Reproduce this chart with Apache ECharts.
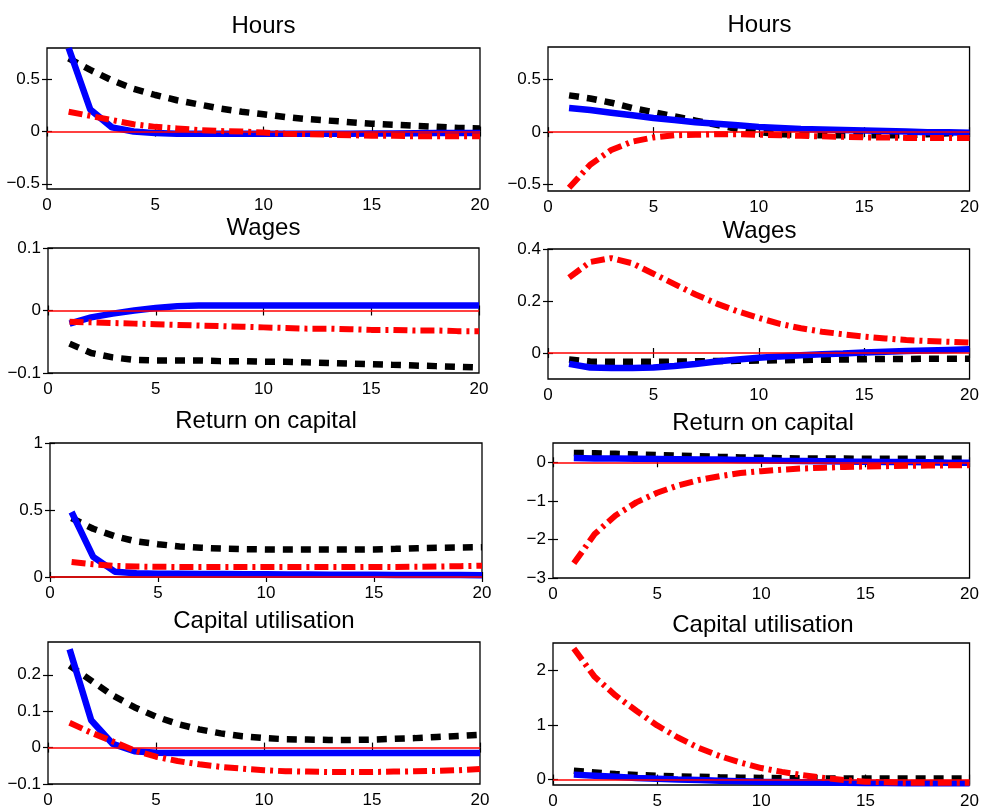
<!DOCTYPE html>
<html>
<head>
<meta charset="utf-8">
<script src="https://cdn.jsdelivr.net/npm/echarts@6/dist/echarts.min.js"></script>
<style>html,body{margin:0;padding:0;background:#fff}#c{width:982px;height:810px}</style>
</head>
<body>
<div id="c"></div>
<script>
// ---------- data ----------
const periods = [1,2,3,4,5,6,7,8,9,10,11,12,13,14,15,16,17,18,19,20];
const xTicks = [0,5,10,15,20];

const titles = ['Hours','Hours','Wages','Wages','Return on capital','Return on capital','Capital utilisation','Capital utilisation'];

const hoursLTicks = [-0.5,0,0.5];
const hoursRTicks = [-0.5,0,0.5];
const wagesLTicks = [-0.1,0,0.1];
const wagesRTicks = [0,0.2,0.4];
const returnLTicks = [0,0.5,1];
const returnRTicks = [-3,-2,-1,0];
const utilLTicks = [-0.1,0,0.1,0.2];
const utilRTicks = [0,1,2];

const hoursLBlue  = [0.80,0.21,0.04,0.0,-0.015,-0.02,-0.02,-0.02,-0.02,-0.02,-0.02,-0.02,-0.02,-0.02,-0.018,-0.018,-0.016,-0.015,-0.015,-0.015];
const hoursLBlack = [0.70,0.59,0.49,0.41,0.35,0.30,0.26,0.22,0.19,0.165,0.14,0.12,0.105,0.09,0.075,0.065,0.055,0.045,0.035,0.03];
const hoursLRed   = [0.19,0.15,0.11,0.07,0.045,0.03,0.015,0.005,0,-0.01,-0.02,-0.025,-0.03,-0.035,-0.04,-0.04,-0.045,-0.045,-0.045,-0.045];

const hoursRBlue  = [0.23,0.21,0.185,0.16,0.135,0.115,0.095,0.08,0.065,0.05,0.04,0.03,0.025,0.02,0.015,0.01,0.005,0,0,-0.005];
const hoursRBlack = [0.35,0.32,0.28,0.23,0.19,0.15,0.11,0.07,0.03,0.0,-0.02,-0.025,-0.03,-0.03,-0.03,-0.03,-0.03,-0.02,-0.01,-0.01];
const hoursRRed   = [-0.53,-0.31,-0.17,-0.09,-0.05,-0.03,-0.025,-0.02,-0.02,-0.025,-0.03,-0.035,-0.04,-0.045,-0.05,-0.05,-0.055,-0.055,-0.055,-0.055];

const wagesLBlue  = [-0.021,-0.011,-0.005,0.0,0.004,0.007,0.008,0.008,0.008,0.008,0.008,0.008,0.008,0.008,0.008,0.008,0.008,0.008,0.008,0.008];
const wagesLBlack = [-0.053,-0.068,-0.075,-0.079,-0.08,-0.08,-0.08,-0.081,-0.081,-0.082,-0.082,-0.083,-0.084,-0.085,-0.086,-0.087,-0.088,-0.089,-0.09,-0.091];
const wagesLRed   = [-0.018,-0.019,-0.02,-0.021,-0.022,-0.023,-0.024,-0.025,-0.026,-0.027,-0.028,-0.029,-0.029,-0.03,-0.031,-0.031,-0.032,-0.032,-0.033,-0.033];

const wagesRBlue  = [-0.042,-0.056,-0.058,-0.058,-0.056,-0.05,-0.042,-0.033,-0.025,-0.018,-0.013,-0.009,-0.005,-0.002,0.002,0.005,0.008,0.01,0.012,0.014];
const wagesRBlack = [-0.025,-0.033,-0.034,-0.034,-0.034,-0.033,-0.032,-0.031,-0.03,-0.029,-0.028,-0.027,-0.026,-0.025,-0.024,-0.023,-0.023,-0.022,-0.022,-0.022];
const wagesRRed   = [0.29,0.35,0.365,0.345,0.305,0.265,0.225,0.19,0.16,0.135,0.112,0.095,0.082,0.072,0.063,0.056,0.05,0.046,0.043,0.04];

const returnLBlue  = [0.485,0.15,0.04,0.028,0.025,0.024,0.023,0.022,0.021,0.02,0.019,0.018,0.017,0.016,0.016,0.015,0.015,0.014,0.014,0.013];
const returnLBlack = [0.44,0.36,0.305,0.265,0.245,0.228,0.218,0.212,0.208,0.206,0.205,0.205,0.205,0.205,0.206,0.21,0.215,0.218,0.22,0.222];
const returnLRed   = [0.112,0.095,0.083,0.078,0.076,0.075,0.074,0.074,0.074,0.074,0.074,0.074,0.074,0.074,0.075,0.075,0.076,0.078,0.081,0.084];

const returnRBlue  = [0.11,0.1,0.095,0.09,0.085,0.08,0.075,0.07,0.06,0.05,0.04,0.035,0.03,0.02,0.015,0.01,0.005,0,-0.01,-0.015];
const returnRBlack = [0.24,0.235,0.22,0.2,0.185,0.17,0.155,0.14,0.125,0.115,0.105,0.1,0.095,0.095,0.09,0.09,0.09,0.09,0.09,0.09];
const returnRRed   = [-2.62,-1.86,-1.38,-1.04,-0.79,-0.6,-0.46,-0.36,-0.28,-0.23,-0.19,-0.16,-0.14,-0.12,-0.11,-0.1,-0.09,-0.085,-0.08,-0.08];

const utilLBlue  = [0.27,0.075,0.01,-0.01,-0.014,-0.015,-0.015,-0.015,-0.015,-0.015,-0.015,-0.015,-0.015,-0.015,-0.015,-0.015,-0.015,-0.015,-0.015,-0.015];
const utilLBlack = [0.225,0.184,0.143,0.111,0.085,0.065,0.05,0.039,0.031,0.026,0.023,0.022,0.021,0.021,0.022,0.024,0.026,0.029,0.032,0.035];
const utilLRed   = [0.068,0.041,0.017,-0.008,-0.025,-0.037,-0.046,-0.053,-0.058,-0.062,-0.065,-0.066,-0.067,-0.067,-0.067,-0.066,-0.065,-0.064,-0.062,-0.059];

const utilRBlue  = [0.09,0.07,0.05,0.03,0.015,0.0,-0.01,-0.02,-0.03,-0.04,-0.045,-0.05,-0.055,-0.06,-0.065,-0.065,-0.07,-0.07,-0.07,-0.07];
const utilRBlack = [0.16,0.13,0.1,0.085,0.07,0.055,0.05,0.04,0.035,0.03,0.025,0.025,0.02,0.02,0.02,0.02,0.02,0.02,0.02,0.02];
const utilRRed   = [2.4,1.88,1.54,1.26,0.99,0.77,0.58,0.43,0.31,0.21,0.14,0.08,0.03,-0.01,-0.04,-0.05,-0.06,-0.06,-0.06,-0.06];

// ---------- panel assembly ----------
const panels = [
  {blue: hoursLBlue,  black: hoursLBlack,  red: hoursLRed,  ticks: hoursLTicks,  min: -0.55, max: 0.8},
  {blue: hoursRBlue,  black: hoursRBlack,  red: hoursRRed,  ticks: hoursRTicks,  min: -0.56, max: 0.81},
  {blue: wagesLBlue,  black: wagesLBlack,  red: wagesLRed,  ticks: wagesLTicks,  min: -0.1,  max: 0.1},
  {blue: wagesRBlue,  black: wagesRBlack,  red: wagesRRed,  ticks: wagesRTicks,  min: -0.1,  max: 0.4},
  {blue: returnLBlue, black: returnLBlack, red: returnLRed, ticks: returnLTicks, min: 0,     max: 1},
  {blue: returnRBlue, black: returnRBlack, red: returnRRed, ticks: returnRTicks, min: -3,    max: 0.5},
  {blue: utilLBlue,   black: utilLBlack,   red: utilLRed,   ticks: utilLTicks,   min: -0.1,  max: 0.29},
  {blue: utilRBlue,   black: utilRBlack,   red: utilRRed,   ticks: utilRTicks,   min: -0.1,  max: 2.5}
];

// plot-area rectangles (layout)
const rects = [
  {l: 47,  r: 480, t: 48,  b: 189},
  {l: 548, r: 971, t: 47,  b: 191},
  {l: 48,  r: 479, t: 248, b: 373},
  {l: 548, r: 971, t: 249, b: 379},
  {l: 50,  r: 482, t: 443, b: 577},
  {l: 553, r: 973, t: 443, b: 578},
  {l: 48,  r: 480, t: 642, b: 784},
  {l: 553, r: 973, t: 643, b: 786}
];
const titleY = [26, 25, 228, 231, 421, 423, 621, 625];

const FONT = '"Liberation Sans", Arial, Helvetica, sans-serif';
const W = 982, H = 810;
const fmt = v => String(v).replace('-', '\u2212');

const grid = [], xAxis = [], yAxis = [], series = [], graphic = [];
panels.forEach((p, i) => {
  const r = rects[i];
  grid.push({left: r.l, top: r.t, width: r.r - r.l, height: r.b - r.t,
    show: true, borderColor: '#000', borderWidth: 1.3, backgroundColor: '#fff', containLabel: false});
  const tickStyle = {show: true, inside: true, length: 5, lineStyle: {color: '#000', width: 1.2}};
  xAxis.push({type: 'value', gridIndex: i, min: 0, max: 20, position: 'bottom',
    axisLine: {show: false}, splitLine: {show: false},
    axisTick: Object.assign({customValues: xTicks}, tickStyle),
    axisLabel: {customValues: xTicks, margin: 8, color: '#000', fontSize: 17, fontFamily: FONT, formatter: fmt}});
  xAxis.push({type: 'value', gridIndex: i, min: 0, max: 20, position: 'top',
    axisLine: {show: false}, splitLine: {show: false},
    axisTick: Object.assign({customValues: xTicks}, tickStyle),
    axisLabel: {show: false}});
  yAxis.push({type: 'value', gridIndex: i, min: p.min, max: p.max, position: 'left',
    axisLine: {show: false}, splitLine: {show: false},
    axisTick: Object.assign({customValues: p.ticks}, tickStyle),
    axisLabel: {customValues: p.ticks, margin: 7, color: '#000', fontSize: 17, fontFamily: FONT, formatter: fmt}});
  yAxis.push({type: 'value', gridIndex: i, min: p.min, max: p.max, position: 'right',
    axisLine: {show: false}, splitLine: {show: false},
    axisTick: Object.assign({customValues: p.ticks}, tickStyle),
    axisLabel: {show: false}});

  const zip = arr => periods.map((x, k) => [x, arr[k]]);
  const base = {type: 'line', xAxisIndex: 2 * i, yAxisIndex: 2 * i, symbol: 'none',
    smooth: false, clip: true, silent: true, animation: false};
  series.push(Object.assign({}, base, {name: 'black' + i, data: zip(p.black),
    lineStyle: {color: '#000', width: 6.5, type: [10, 8], cap: 'butt'}, z: 2}));
  series.push(Object.assign({}, base, {name: 'blue' + i, data: zip(p.blue),
    lineStyle: {color: '#0000ff', width: 6.5}, z: 3}));
  series.push(Object.assign({}, base, {name: 'red' + i, data: zip(p.red),
    lineStyle: {color: '#ff0000', width: 6, type: [14, 5, 3, 5], cap: 'butt'}, z: 4,
    markLine: {silent: true, symbol: 'none', label: {show: false},
      lineStyle: {color: '#ff0000', width: 1.5, type: 'solid'}, data: [{yAxis: 0}], animation: false}}));

  graphic.push({type: 'text', x: (r.l + r.r) / 2, y: titleY[i], z: 10,
    style: {text: titles[i], fill: '#000', font: '24px ' + FONT, textAlign: 'center', textVerticalAlign: 'middle'}});
});

const chart = echarts.init(document.getElementById('c'), null, {renderer: 'canvas', width: W, height: H});
chart.setOption({animation: false, backgroundColor: '#fff', grid, xAxis, yAxis, series, graphic});
</script>
</body>
</html>
